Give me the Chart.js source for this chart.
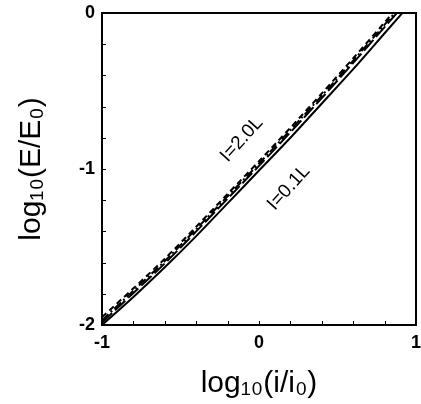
<!DOCTYPE html>
<html>
<head>
<meta charset="utf-8">
<script src="https://cdn.jsdelivr.net/npm/chart.js@4"></script>
<style>
html, body { margin: 0; padding: 0; background: #fff; }
#wrap { width: 421px; height: 404px; }
</style>
</head>
<body>
<div id="wrap"><canvas id="chart"></canvas></div>
<script>
// log10(i/i0) sample points
var logI = [-1, -0.8, -0.6, -0.4, -0.2, 0, 0.2, 0.4, 0.6, 0.8, 1.0]

// log10(E/E0) for each thickness
var eI01 = [-2.00, -1.82, -1.63, -1.43, -1.22, -1.01, -0.80, -0.58, -0.36, -0.13, 0.10]
var eI05 = [-1.985, -1.795, -1.605, -1.40, -1.19, -0.98, -0.765, -0.545, -0.32, -0.09, 0.14]
var eI10 = [-1.97, -1.78, -1.59, -1.385, -1.175, -0.965, -0.75, -0.53, -0.305, -0.075, 0.16]
var eI20 = [-1.95, -1.765, -1.575, -1.37, -1.16, -0.95, -0.735, -0.515, -0.29, -0.06, 0.18]

var curveText = ['I=2.0L', 'I=0.1L']
var curveTextX = [-0.11, 0.19]
var curveTextY = [-0.81, -1.12]

function pts(ys) {
    return logI.map((x, i) => ({x: x, y: ys[i]}))
}

function isMajor(v) {
    return Math.abs(v - Math.round(v)) < 1e-6
}

var frame = {
    id: 'frame',
    afterDatasetsDraw(chart) {
        var ctx = chart.ctx, a = chart.chartArea
        var sx = chart.scales.x, sy = chart.scales.y
        ctx.save()
        ctx.strokeStyle = '#000'
        ctx.lineWidth = 1
        ctx.beginPath()
        sx.ticks.forEach(t => {
            var p = Math.round(sx.getPixelForValue(t.value)) + 0.5
            ctx.moveTo(p, a.bottom)
            ctx.lineTo(p, a.bottom - 4)
        })
        sy.ticks.forEach(t => {
            var p = Math.round(sy.getPixelForValue(t.value)) + 0.5
            ctx.moveTo(a.left, p)
            ctx.lineTo(a.left + 4, p)
        })
        ctx.stroke()
        ctx.lineWidth = 2
        ctx.strokeRect(a.left, a.top, a.right - a.left, a.bottom - a.top)

        ctx.fillStyle = '#000'
        ctx.font = '19px "Liberation Sans", Arial, sans-serif'
        ctx.textAlign = 'center'
        ctx.textBaseline = 'middle'
        curveText.forEach((s, i) => {
            ctx.save()
            ctx.translate(sx.getPixelForValue(curveTextX[i]), sy.getPixelForValue(curveTextY[i]))
            ctx.rotate(-48 * Math.PI / 180)
            ctx.fillText(s, 0, 0)
            ctx.restore()
        })
        ctx.restore()
    }
}

var line = (label, ys, dash) => ({
    label: label,
    data: pts(ys),
    borderColor: '#000',
    borderWidth: 2,
    borderDash: dash,
    pointRadius: 0,
    tension: 0.3,
    fill: false
})

var ctx = document.getElementById('chart').getContext('2d')
new Chart(ctx, {
    type: 'line',
    data: {
        datasets: [
            line('I=0.1L', eI01, []),
            line('I=0.5L', eI05, [14, 4]),
            line('I=1.0L', eI10, [9, 3, 2, 3]),
            line('I=2.0L', eI20, [6, 4])
        ]
    },
    options: {
        responsive: true,
        maintainAspectRatio: false,
        animation: false,
        layout: {padding: {left: 0, right: 5, top: 13, bottom: 0}},
        plugins: {legend: {display: false}, tooltip: {enabled: false}},
        scales: {
            x: {
                type: 'linear', min: -1, max: 1,
                grid: {display: false, drawTicks: false},
                border: {display: false},
                ticks: {
                    stepSize: 0.2, padding: 7, color: '#000', autoSkip: false, maxRotation: 0,
                    font: {family: '"Liberation Sans", Arial, sans-serif', size: 18, weight: 'bold'},
                    callback: v => isMajor(v) ? Math.round(v) : ''
                },
                title: {
                    display: true, text: 'log₁₀(i/i₀)', color: '#000',
                    font: {family: '"Liberation Sans", Arial, sans-serif', size: 30},
                    padding: {top: 0, bottom: 2}
                },
                afterFit: s => {
                    s.height = 79
                    s.paddingLeft = 0
                    s.paddingRight = 0
                }
            },
            y: {
                type: 'linear', min: -2, max: 0,
                grid: {display: false, drawTicks: false},
                border: {display: false},
                ticks: {
                    stepSize: 0.2, padding: 7, color: '#000', autoSkip: false,
                    font: {family: '"Liberation Sans", Arial, sans-serif', size: 18, weight: 'bold'},
                    callback: v => isMajor(v) ? Math.round(v) : ''
                },
                title: {
                    display: true, text: 'log₁₀(E/E₀)', color: '#000',
                    font: {family: '"Liberation Sans", Arial, sans-serif', size: 30},
                    padding: {top: 14, bottom: 0}
                },
                afterFit: s => {
                    s.width = 102
                    s.paddingTop = 0
                    s.paddingBottom = 0
                }
            }
        }
    },
    plugins: [frame]
})
</script>
</body>
</html>
